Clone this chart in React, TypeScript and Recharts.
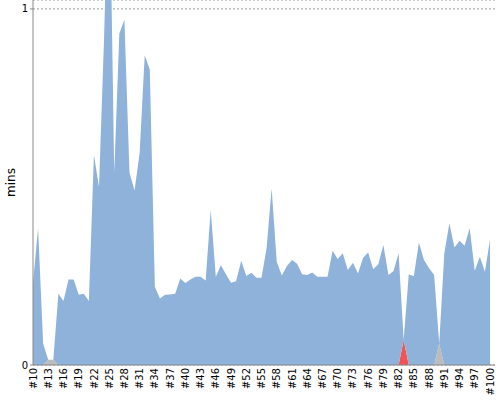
import { AreaChart, Area, XAxis, YAxis, CartesianGrid } from "recharts";

const builds = [
  "#10", "#11", "#12", "#13", "#14", "#15", "#16", "#17", "#18", "#19",
  "#20", "#21", "#22", "#23", "#24", "#25", "#26", "#27", "#28", "#29",
  "#30", "#31", "#32", "#33", "#34", "#35", "#36", "#37", "#38", "#39",
  "#40", "#41", "#42", "#43", "#44", "#45", "#46", "#47", "#48", "#49",
  "#50", "#51", "#52", "#53", "#54", "#55", "#56", "#57", "#58", "#59",
  "#60", "#61", "#62", "#63", "#64", "#65", "#66", "#67", "#68", "#69",
  "#70", "#71", "#72", "#73", "#74", "#75", "#76", "#77", "#78", "#79",
  "#80", "#81", "#82", "#83", "#84", "#85", "#86", "#87", "#88", "#89",
  "#90", "#91", "#92", "#93", "#94", "#95", "#96", "#97", "#98", "#99",
  "#100",
];

// duration (mins) of successful builds, 0 where the build failed or was aborted
const successMins = [
  0.23, 0.385, 0.06, 0, 0, 0.2, 0.18, 0.24, 0.24, 0.197,
  0.2, 0.18, 0.59, 0.5, 0.92, 1.45, 0.54, 0.93, 0.97, 0.54,
  0.49, 0.595, 0.87, 0.83, 0.22, 0.187, 0.197, 0.198, 0.2, 0.243,
  0.23, 0.24, 0.248, 0.248, 0.237, 0.435, 0.248, 0.28, 0.255, 0.231,
  0.235, 0.293, 0.25, 0.259, 0.245, 0.245, 0.328, 0.496, 0.29, 0.251,
  0.278, 0.295, 0.284, 0.255, 0.253, 0.26, 0.248, 0.248, 0.248, 0.321,
  0.298, 0.314, 0.267, 0.287, 0.257, 0.301, 0.316, 0.269, 0.283, 0.337,
  0.253, 0.264, 0.314, 0, 0.254, 0.25, 0.344, 0.295, 0.272, 0.253,
  0, 0.314, 0.398, 0.33, 0.349, 0.335, 0.384, 0.265, 0.304, 0.262,
  0.352,
];

const failedMins: Record<string, number> = { "#83": 0.07 };
const abortedMins: Record<string, number> = { "#13": 0.015, "#14": 0.015, "#90": 0.06 };

const yTicks = [0, 1];

const data = builds.map((b, i) => ({
  build: b,
  success: successMins[i],
  failed: failedMins[b] ?? 0,
  aborted: abortedMins[b] ?? 0,
}));

const font = "DejaVu Sans";

function BuildTick({ x, y, payload }: any) {
  return (
    <text
      x={x}
      y={y}
      dy="0.36em"
      transform={`rotate(-90, ${x}, ${y})`}
      textAnchor="end"
      fontSize={10}
      fontFamily={font}
      fill="#000"
    >
      {payload.value}
    </text>
  );
}

function MinsLabel({ viewBox }: any) {
  const cy = viewBox.y + viewBox.height / 2;
  return (
    <text
      x={15}
      y={cy}
      transform={`rotate(-90, 15, ${cy})`}
      textAnchor="middle"
      fontSize={12}
      fontFamily={font}
      fill="#000"
    >
      mins
    </text>
  );
}

export default function App() {
  return (
    <div style={{ position: "absolute", left: 0, top: 0, background: "#fff" }}>
      <AreaChart
        width={500}
        height={400}
        data={data}
        margin={{ top: 0, right: 5, left: 0, bottom: 0 }}
      >
        <CartesianGrid vertical={false} stroke="#999" strokeDasharray="2 2" />
        <XAxis
          dataKey="build"
          interval={2}
          height={35}
          tickLine={false}
          tickSize={3}
          tickMargin={0}
          padding={{ left: 0, right: 5 }}
          axisLine={{ stroke: "#888" }}
          tick={<BuildTick />}
        />
        <YAxis
          width={33}
          domain={[0, 1.025]}
          ticks={yTicks}
          allowDataOverflow
          tickSize={3}
          tickMargin={2}
          axisLine={{ stroke: "#888" }}
          tickLine={{ stroke: "#888" }}
          tick={{ fontSize: 10, fontFamily: font, fill: "#000" }}
          label={<MinsLabel />}
        />
        <Area
          type="linear"
          dataKey="failed"
          stackId="1"
          stroke="none"
          fill="#f25454"
          fillOpacity={1}
          isAnimationActive={false}
        />
        <Area
          type="linear"
          dataKey="aborted"
          stackId="1"
          stroke="none"
          fill="#bcbcbc"
          fillOpacity={1}
          isAnimationActive={false}
        />
        <Area
          type="linear"
          dataKey="success"
          stackId="1"
          stroke="none"
          fill="#8eb2d9"
          fillOpacity={1}
          isAnimationActive={false}
        />
      </AreaChart>
    </div>
  );
}
